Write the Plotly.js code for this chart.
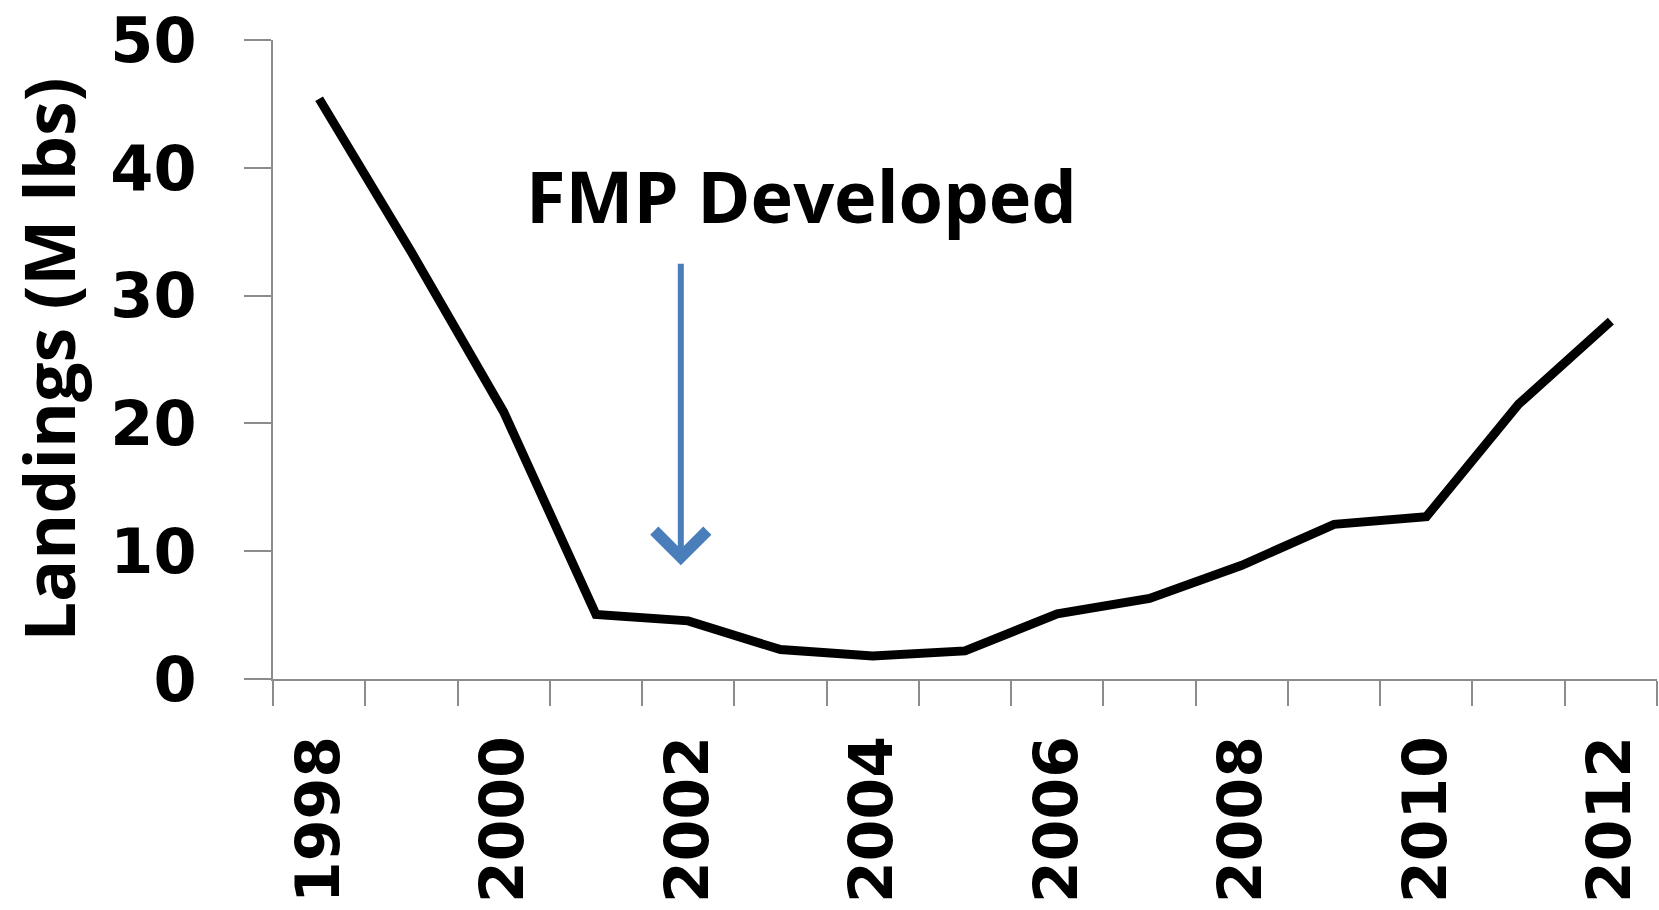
<!DOCTYPE html>
<html>
<head>
<meta charset="utf-8">
<script src="https://cdn.plot.ly/plotly-3.0.1.min.js"></script>
<style>html,body{margin:0;padding:0;background:#fff;}#chart{width:1659px;height:910px;}</style>
</head>
<body>
<div id="chart"></div>
<script>
// Data
const years = [1998, 1999, 2000, 2001, 2002, 2003, 2004, 2005, 2006, 2007, 2008, 2009, 2010, 2011, 2012];
const landings = [45.4, 33.4, 20.9, 5.05, 4.55, 2.3, 1.8, 2.2, 5.1, 6.3, 8.9, 12.1, 12.7, 21.5, 28.0];
const xTickVals = [1998, 2000, 2002, 2004, 2006, 2008, 2010, 2012];
const xTickText = ['1998', '2000', '2002', '2004', '2006', '2008', '2010', '2012'];
const yTickVals = [0, 10, 20, 30, 40, 50];
const annotationText = 'FMP Developed';
const yTitle = 'Landings (M lbs)';
const fmpYear = 2001.92;
const arrowTop = 32.6;
const arrowTip = 8.9;

const axisGrey = '#8c8c8c';
const textFont = {family: 'Open Sans', size: 72, color: '#000', weight: 'bold'};

const trace = {
  x: years,
  y: landings,
  type: 'scatter',
  mode: 'lines',
  line: {color: '#000000', width: 9},
  hoverinfo: 'skip'
};

const layout = {
  width: 1659,
  height: 910,
  margin: {l: 273, r: 2, t: 40, b: 231, pad: 0},
  paper_bgcolor: '#ffffff',
  plot_bgcolor: '#ffffff',
  showlegend: false,
  xaxis: {
    type: 'linear',
    range: [1997.5, 2012.5],
    tickmode: 'array',
    tickvals: xTickVals,
    ticktext: xTickText,
    tickangle: -90,
    ticks: 'outside',
    ticklen: 25,
    tickcolor: 'rgba(0,0,0,0)',
    ticklabelstandoff: 6,
    tickfont: {family: 'DejaVu Sans', size: 60, color: '#000', weight: 'bold'},
    showline: true,
    linecolor: axisGrey,
    linewidth: 2,
    showgrid: false,
    zeroline: false,
    minor: {tick0: 1997.5, dtick: 1, ticks: 'outside', ticklen: 25, tickcolor: axisGrey, tickwidth: 2, showgrid: false},
    fixedrange: true
  },
  yaxis: {
    range: [0, 50],
    tickmode: 'array',
    tickvals: yTickVals,
    ticks: 'outside',
    ticklen: 27,
    tickwidth: 2,
    tickcolor: axisGrey,
    ticklabelstandoff: 35,
    tickfont: {family: 'DejaVu Sans', size: 62, color: '#000', weight: 'bold'},
    showline: true,
    linecolor: axisGrey,
    linewidth: 2,
    showgrid: false,
    zeroline: false,
    automargin: false,
    title: {text: yTitle, font: {family: 'Open Sans', size: 70, color: '#000', weight: 'bold'}, standoff: 12},
    fixedrange: true
  },
  annotations: [
    {
      x: 2003.23, y: 37.9, xref: 'x', yref: 'y',
      text: annotationText, showarrow: false,
      xanchor: 'center', yanchor: 'middle',
      font: textFont
    },
    {
      x: fmpYear, y: arrowTip, xref: 'x', yref: 'y',
      ax: fmpYear, ay: arrowTop, axref: 'x', ayref: 'y',
      text: '', showarrow: true,
      arrowcolor: '#4A7EBB', arrowwidth: 6, arrowhead: 4, arrowsize: 1.7
    }
  ]
};

Plotly.newPlot('chart', [trace], layout, {displayModeBar: false, staticPlot: true});
</script>
</body>
</html>
